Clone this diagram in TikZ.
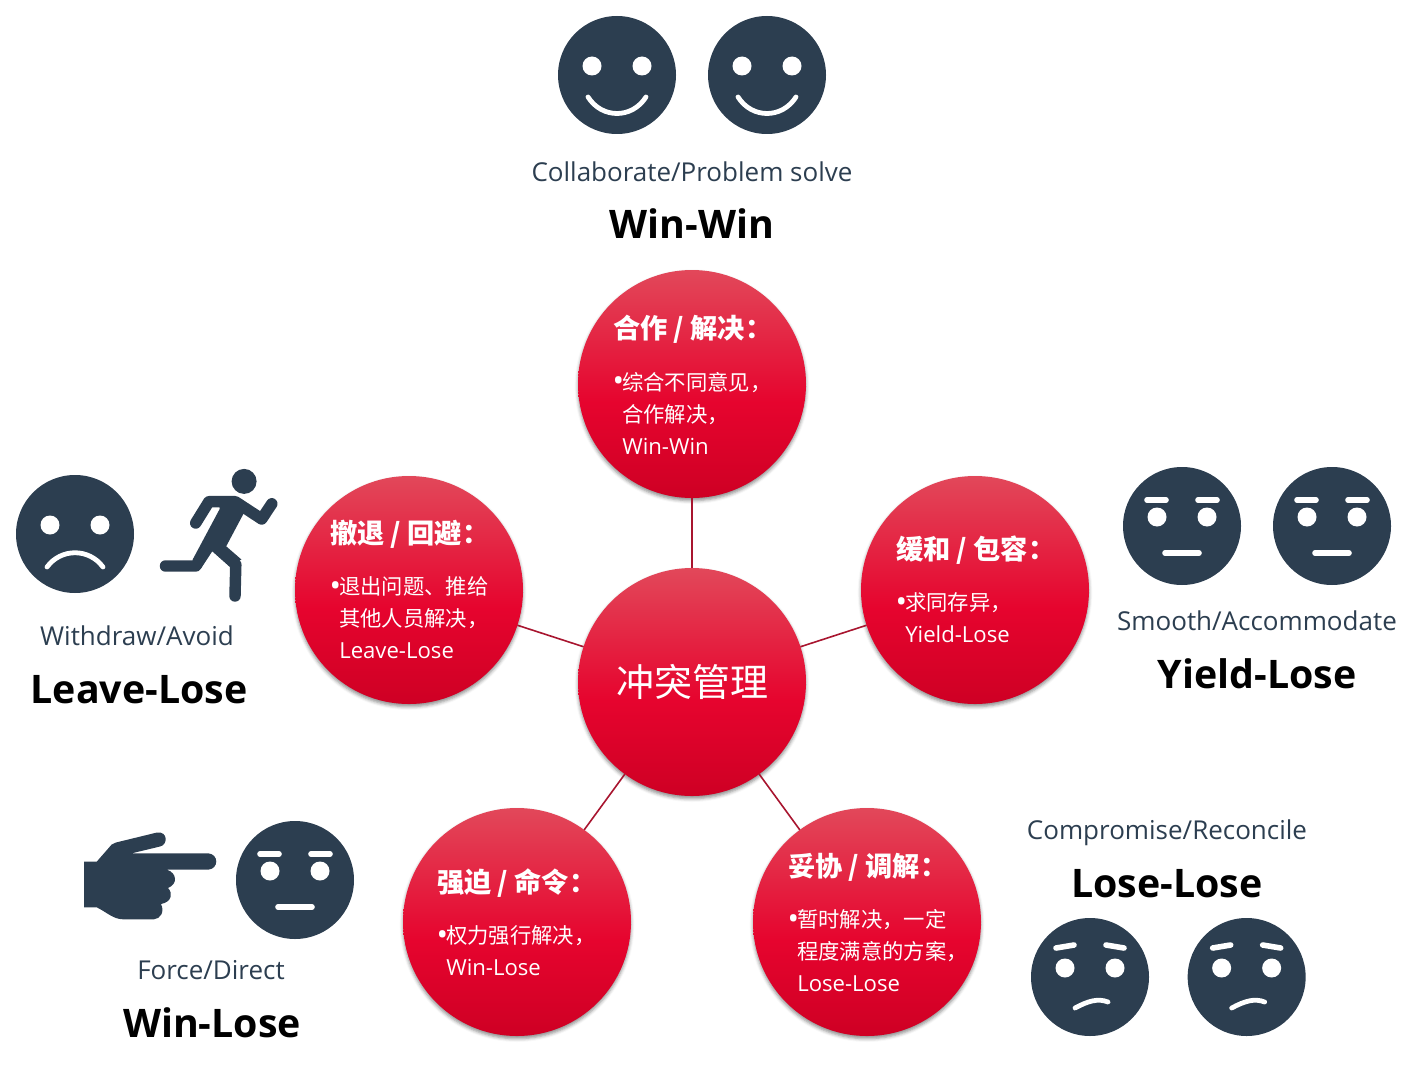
\documentclass[tikz,border=0pt]{standalone}
\usepackage{fontspec}
\setmainfont{Open Sans}
\newfontfamily\cjk{Noto Sans CJK SC}
\usetikzlibrary{positioning, shadows.blur}
\definecolor{slate}{HTML}{2C3E50}
\definecolor{redtop}{HTML}{E2485A}
\definecolor{redmid}{HTML}{E6042E}
\definecolor{redlow}{HTML}{CE0024}
\definecolor{redline}{HTML}{A8152F}
\pgfdeclareverticalshading{redball}{100bp}{color(0bp)=(redlow); color(25bp)=(redlow); color(46bp)=(redmid); color(75bp)=(redtop); color(100bp)=(redtop)}
\newcommand{\dotmark}{\makebox[6pt][c]{\fontsize{23}{24}\selectfont\raisebox{-1.2pt}{•}}}
\newcommand{\dotgap}{\hspace*{6pt}}
\newcommand{\latin}[1]{{\fontsize{16.6}{24}\selectfont #1}}

\begin{document}
\begin{tikzpicture}[
    x=0.75pt, y=-0.75pt,
    bubble/.style={circle, minimum size=171pt, inner sep=0pt, outer sep=0pt,
        shading=redball, shading angle=0,
        blur shadow={shadow xshift=0pt, shadow yshift=-2pt, shadow blur radius=2.5pt, shadow opacity=45}},
    face/.style={circle, fill=slate, minimum size=88.5pt, inner sep=0pt, outer sep=0pt},
    link/.style={redline, line width=1.2pt},
    stroke/.style={white, line width=3.6pt, line cap=round},
    limb/.style={slate, line width=8.6pt, line cap=round, line join=round},
    subtitle/.style={text=slate, font=\fontsize{19.5}{24}\selectfont, inner sep=0pt, text height=16.5pt, text depth=3pt},
    outcome/.style={text=black, font=\fontsize{29.5}{34}\selectfont\bfseries, inner sep=0pt, text height=24pt, text depth=4.5pt},
    heading/.style={text=white, anchor=west, inner sep=0pt, font=\cjk\bfseries\fontsize{20.4}{24}\selectfont},
    detail/.style={text=white, anchor=west, inner sep=0pt, align=left, font=\fontsize{16}{24}\selectfont},
    eyes/.pic={
        \fill[white] (-25,-9) circle (9.5) (25,-9) circle (9.5);
    },
    smile/.pic={
        \pic {eyes};
        \draw[stroke] (-29,22) .. controls (-15,44) and (15,44) .. (29,22);
    },
    frown/.pic={
        \pic {eyes};
        \draw[stroke] (-28,33) .. controls (-14,14) and (14,14) .. (28,33);
    },
    flat/.pic={
        \pic {eyes};
        \draw[stroke, line width=4.2pt] (-35,-26) -- (-16,-26) (16,-26) -- (35,-26);
        \draw[stroke, line width=4.2pt] (-17,27) -- (17,27);
    },
    worried/.pic={
        \pic {eyes};
        \draw[stroke, line width=4.2pt] (-34,-29) -- (-16,-32) (16,-32) -- (34,-29);
        \draw[stroke] (-15,31) .. controls (-2,24) and (8,21) .. (18,25);
    }
]
\useasboundingbox (0,0) rectangle (1413,1070);

% Centre and outer circles
\node[bubble] (core) at (692,682) {};
\node[bubble] (coop) at (692,384) {};
\node[bubble] (retreat) at (409,590) {};
\node[bubble] (ease) at (975,590) {};
\node[bubble] (force) at (517,922) {};
\node[bubble] (settle) at (867,922) {};

% Links
\draw[link] (core) -- (coop);
\draw[link] (core) -- (retreat);
\draw[link] (core) -- (ease);
\draw[link] (core) -- (force);
\draw[link] (core) -- (settle);

% Circle texts
\node[text=white, inner sep=0pt, font=\cjk\fontsize{28.5}{34}\selectfont] (coretext) at (core) {冲突管理};

\node[heading] (coophead) at (613,329) {合作 / 解决：};
\node[detail] (coopbody) at (614,413) {\dotmark{\cjk 综合不同意见，}\\\dotgap{\cjk 合作解决，}\\\dotgap\latin{Win-Win}};

\node[heading] (retreathead) at (330,534) {撤退 / 回避：};
\node[detail] (retreatbody) at (331,618) {\dotmark{\cjk 退出问题、推给}\\\dotgap{\cjk 其他人员解决，}\\\dotgap\latin{Leave-Lose}};

\node[heading] (easehead) at (896,550) {缓和 / 包容：};
\node[detail] (easebody) at (897,618) {\dotmark{\cjk 求同存异，}\\\dotgap\latin{Yield-Lose}};

\node[heading] (forcehead) at (437,883) {强迫 / 命令：};
\node[detail] (forcebody) at (438,951) {\dotmark{\cjk 权力强行解决，}\\\dotgap\latin{Win-Lose}};

\node[heading] (settlehead) at (788,867) {妥协 / 调解：};
\node[detail] (settlebody) at (789,951) {\dotmark{\cjk 暂时解决，一定}\\\dotgap{\cjk 程度满意的方案，}\\\dotgap\latin{Lose-Lose}};

% Faces
\node[face] (winA) at (617,75) {};
\node[face, right=24pt of winA] (winB) {};
\pic at (winA) {smile};
\pic at (winB) {smile};

\node[face] (leave) at (75,534) {};
\pic at (leave) {frown};

\node[face] (yieldA) at (1182,526) {};
\node[face, right=24pt of yieldA] (yieldB) {};
\pic at (yieldA) {flat};
\pic at (yieldB) {flat};

\node[face] (push) at (295,880) {};
\pic at (push) {flat};

\node[face] (loseA) at (1090,977) {};
\node[face, right=29pt of loseA] (loseB) {};
\pic at (loseA) {worried};
\pic at (loseB) {worried};

% Runner
\fill[slate] (244.1,481.4) circle (12.5);
\draw[limb] (195.7,523) -- (208.9,501.7) -- (235.3,501.7) -- (261.7,519) -- (271.8,503.8);
\fill[slate] (217,496.7) -- (235.3,496.7) -- (243.4,513.9) -- (226.2,546.3) -- (241.4,559.5) -- (230.2,566.6)
    -- (212,550.4) -- (200.8,568.7) -- (192.7,559.5) -- (219.8,508.8) -- cycle;
\draw[limb] (165.5,566) -- (195.7,566) -- (212,541.3);
\draw[limb] (213,544.3) -- (235.8,564.6) -- (235,596);

% Pointing hand
\fill[slate] (84,861.7) -- (96.7,861.7) -- (111.7,844.5) .. controls (113,843.3) and (114,843) .. (116,842.5)
    -- (157,832.5) .. controls (168,831) and (168,845) .. (160,846.5) -- (131.7,853.3) -- (208,853.3)
    .. controls (219,854) and (219,869) .. (208,869.7) -- (167,869.7) .. controls (177,873) and (178,884) .. (168,888)
    .. controls (173,893) and (172,902) .. (161,904) .. controls (165,912) and (160,919) .. (154,919.3)
    -- (123,919.3) .. controls (113,919) and (108,913) .. (96.7,907.3) -- (84,907.3) -- cycle;

% Labels
\node[subtitle] (winsub) at (692,172) {Collaborate/Problem solve};
\node[outcome] (winout) at (692,225) {Win-Win};
\node[subtitle] (leavesub) at (137,636) {Withdraw/Avoid};
\node[outcome] (leaveout) at (139,690) {Leave-Lose};
\node[subtitle] (yieldsub) at (1257,621) {Smooth/Accommodate};
\node[outcome] (yieldout) at (1257,675) {Yield-Lose};
\node[subtitle] (losesub) at (1167,830) {Compromise/Reconcile};
\node[outcome] (loseout) at (1167,884) {Lose-Lose};
\node[subtitle] (pushsub) at (211,970) {Force/Direct};
\node[outcome] (pushout) at (212,1024) {Win-Lose};

\end{tikzpicture}
\end{document}
